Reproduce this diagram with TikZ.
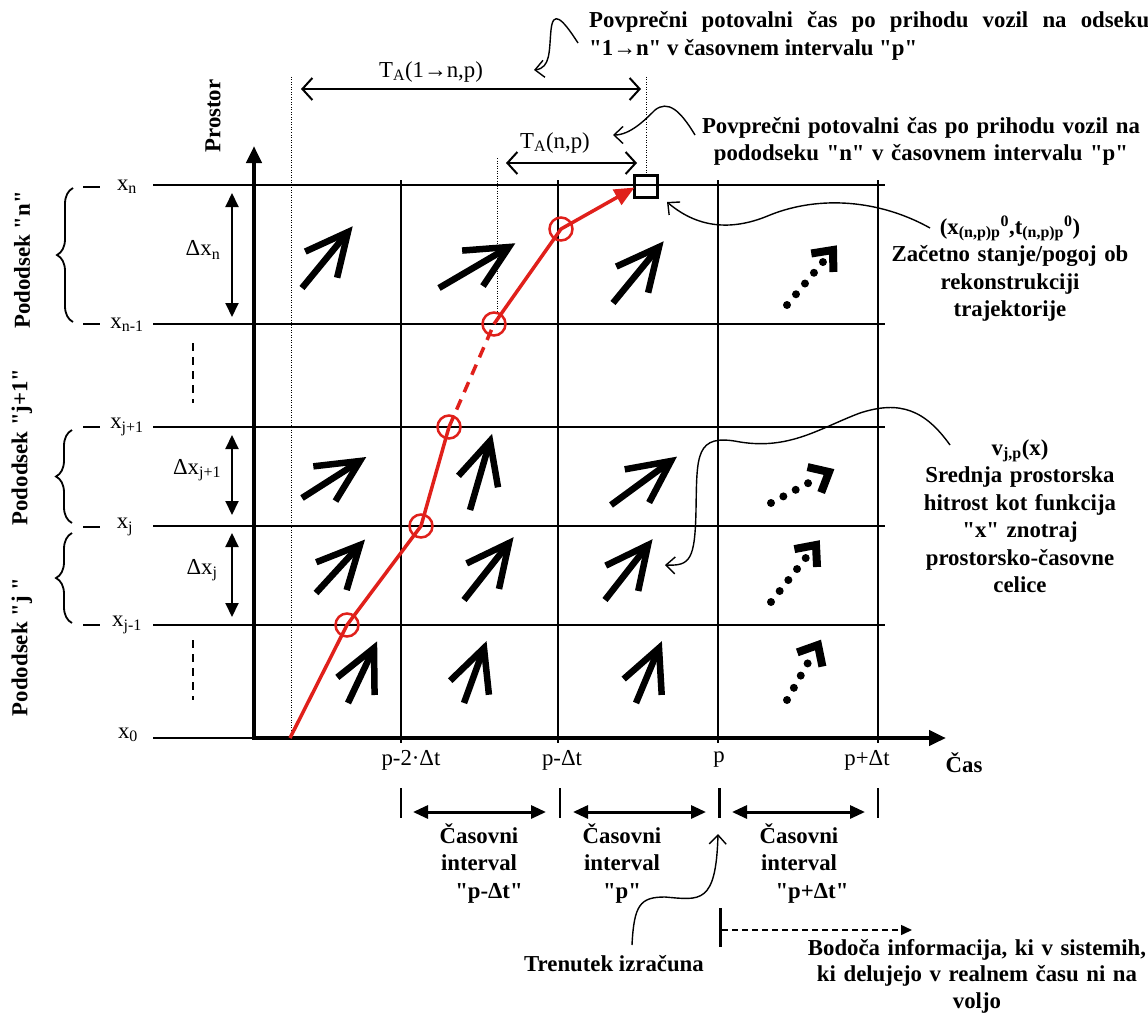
\documentclass[tikz,border=0pt]{standalone}
\usepackage{fontspec}
\setmainfont{Liberation Serif}[Ligatures=TeXOff]
\usetikzlibrary{arrows.meta,calc,decorations.pathreplacing}
\definecolor{trred}{HTML}{E0201B}
\newcommand{\bigsz}{\fontsize{22.8}{27.5}\selectfont}
\newcommand{\velarrow}[2]{%
  \draw[velshaft] (#1) -- (#2);
  \draw[velhead] ($(#2)!47pt!26:(#1)$) -- (#2) -- ($(#2)!47pt!-26:(#1)$);}
\newcommand{\dotarrow}[2]{%
  \draw[dotshaft] (#1) -- ($(#2)!13pt!(#1)$);
  \draw[dothead] ($(#2)!22pt!41:(#1)$) -- (#2) -- ($(#2)!22pt!-41:(#1)$);}
\tikzset{
  gridline/.style={line width=1.8pt},
  axisline/.style={line width=4.5pt, {Triangle[length=17pt,width=15pt]}-{Triangle[length=17pt,width=15pt]}},
  velshaft/.style={line width=6.5pt},
  velhead/.style={line width=6.5pt, line join=miter},
  dotshaft/.style={line width=8pt, line cap=round, dash pattern=on 0pt off 14pt},
  dothead/.style={line width=8pt, line join=miter},
  traj/.style={trred, line width=3.5pt},
  trmark/.style={circle, draw=trred, line width=2.5pt, minimum size=23pt, inner sep=0pt},
  guideline/.style={line width=0.8pt, dash pattern=on 1pt off 1.5pt},
  dimarr/.style={line width=2pt, {Straight Barb[length=10pt,width=22pt]}-{Straight Barb[length=10pt,width=22pt]}},
  dxarr/.style={line width=2pt, {Triangle[length=14pt,width=13pt]}-{Triangle[length=14pt,width=13pt]}},
  ivarr/.style={line width=3pt, {Triangle[length=15pt,width=13pt]}-{Triangle[length=15pt,width=13pt]}},
  callout/.style={line width=1.4pt, -{Straight Barb[length=9pt,width=17pt]}},
  bracestyle/.style={line width=1.8pt, decorate, decoration={brace, amplitude=16pt}},
  leftdash/.style={line width=2pt, dash pattern=on 8pt off 6pt},
  btext/.style={font=\bigsz\bfseries, inner sep=0pt},
  rtext/.style={font=\bigsz, inner sep=0pt},
}
\begin{document}
\begin{tikzpicture}[x=1pt,y=-1pt]
\useasboundingbox (0,0) rectangle (1148,1014);
\fill[white] (0,0) rectangle (1148,1014);

% grid
\foreach \yy in {185,324,427,526,625} \draw[gridline] (153,\yy) -- (885,\yy);
\draw[gridline] (153,738) -- (254,738);
\foreach \xx in {401,558,718,878} \draw[gridline] (\xx,180) -- (\xx,743);

% guide lines
\draw[guideline] (291,77) -- (291,738);
\draw[guideline] (497,158) -- (497,324);
\draw[guideline] (646,77) -- (646,175);

% axes
\coordinate (O) at (254,738);
\coordinate (ytop) at (254,146);
\coordinate (xend) at (946,738);
\draw[axisline] (ytop) -- (O) -- (xend);
\node[btext, rotate=90] (prostor) at (213,116) {Prostor};
\node[btext] (cas) at (964,763) {Čas};

% velocity arrows
\velarrow{302,288}{348,232}
\velarrow{439,288}{509,247}
\velarrow{613,303}{659,247}
\dotarrow{787,305}{833,250}
\velarrow{302,498}{360,461}
\velarrow{470,510}{490,441}
\velarrow{611,505}{671,461}
\dotarrow{771,503}{829,472}
\velarrow{316,593}{360,545}
\velarrow{464,600}{509,543}
\velarrow{605,600}{648,545}
\dotarrow{771,602}{816,545}
\velarrow{348,703}{374,648}
\velarrow{464,703}{484,648}
\velarrow{636,703}{659,648}
\dotarrow{787,700}{818,645}

% trajectory
\coordinate (s0) at (290,738);
\node[trmark] (c1) at (347,625) {};
\node[trmark] (c2) at (421,526) {};
\node[trmark] (c3) at (449,427) {};
\node[trmark] (c4) at (494,324) {};
\node[trmark] (c5) at (561,229) {};
\node[draw, line width=3pt, minimum width=23pt, minimum height=22pt, inner sep=0pt] (sq) at (645.5,186.5) {};
\draw[traj] (s0) -- (c1.center) -- (c2.center) -- (c3.center);
\draw[traj, dash pattern=on 11pt off 8pt] (c3.center) -- (c4.center);
\draw[traj, -{Triangle[length=20pt,width=17pt]}] (c4.center) -- (c5.center) -- ($(sq.west)+(2,1)$);

% left labels
\node[rtext] (xn) at (127,187) {x\textsubscript{n}};
\node[rtext] (xn1) at (127,325) {x\textsubscript{n-1}};
\node[rtext] (xj1) at (127,427) {x\textsubscript{j+1}};
\node[rtext] (xj) at (125,527) {x\textsubscript{j}};
\node[rtext] (xjm) at (127,625) {x\textsubscript{j-1}};
\node[rtext] (x0) at (128,735) {x\textsubscript{0}};
\node[rtext] (dxn) at (203,250) {Δx\textsubscript{n}};
\node[rtext] (dxj1) at (197,470) {Δx\textsubscript{j+1}};
\node[rtext] (dxj) at (202,570) {Δx\textsubscript{j}};
\foreach \yy in {187,324,427,527,625} \draw[gridline] (83,\yy) -- (100,\yy);
\draw[dxarr] (232,193) -- (232,317);
\draw[dxarr] (232,435) -- (232,515);
\draw[dxarr] (232,533) -- (232,617);
\draw[leftdash] (193,343) -- (193,403);
\draw[leftdash] (193,640) -- (193,700);
\draw[bracestyle] (73,322) -- (73,188);
\draw[bracestyle] (72,523) -- (72,430);
\draw[bracestyle] (72,623) -- (72,533);
\node[btext, rotate=90] (pn) at (22,260) {Pododsek "n"};
\node[btext, rotate=90] (pj1) at (22,447) {Pododsek "j+1"};
\node[btext, rotate=90] (pj) at (22,647) {Pododsek "j "};

% top dimension arrows
\node[rtext] (ta1) at (431,72) {T\textsubscript{A}(1→n,p)};
\draw[dimarr] (301,89) -- (641,89);
\node[rtext] (ta2) at (555,143) {T\textsubscript{A}(n,p)};
\draw[dimarr] (506,163) -- (637,163);

% top annotations
\node[btext, anchor=base west, text width=560pt, align=justify] (t1) at (589,28)
  {\tolerance=10000 Povprečni potovalni čas po prihodu vozil na odseku "1→n" v časovnem intervalu "p"};
\node[btext, anchor=base, text width=460pt, align=center] (t2) at (921,133)
  {Povprečni potovalni čas po prihodu vozil na\\pododseku "n" v časovnem intervalu "p"};
\draw[callout] (578,43) .. controls (562,18) and (553,10) .. (551,30) .. controls (549,50) and (551,68) .. (534,70);
\draw[callout] (695,135) .. controls (680,110) and (668,100) .. (655,110) .. controls (645,120) and (630,135) .. (613,135);

% right annotations
\node[btext, anchor=base, text width=270pt, align=center] (r1) at (1010,234)
  {(x\textsubscript{(n,p)p}\textsuperscript{0},t\textsubscript{(n,p)p}\textsuperscript{0})\\Začetno stanje/pogoj ob\\rekonstrukciji\\trajektorije};
\node[btext, anchor=base, text width=250pt, align=center] (r2) at (1020,455)
  {v\textsubscript{j,p}(x)\\Srednja prostorska\\hitrost kot funkcija\\"x" znotraj\\prostorsko-časovne\\celice};
\coordinate (r1c) at (930,228);
\coordinate (r2c) at (950,445);
\draw[callout] (r1c) .. controls (880,200) and (820,195) .. (770,215) .. controls (735,230) and (700,230) .. (667,202);
\draw[callout] (r2c) .. controls (925,410) and (900,400) .. (860,413) .. controls (820,428) and (790,450) .. (740,442) .. controls (695,433) and (697,455) .. (696,510) .. controls (695,560) and (690,566) .. (665,565);

% time labels
\node[rtext] (p2) at (411,760) {p-2·Δt};
\node[rtext] (p1) at (562,760) {p-Δt};
\node[rtext] (p0) at (719,760) {p};
\node[rtext] (pp) at (867,760) {p+Δt};

% interval ticks and arrows
\draw[line width=1.5pt] (401,788) -- (401,818);
\draw[line width=1.5pt] (560,788) -- (560,818);
\draw[line width=3pt] (719,788) -- (719,818);
\draw[line width=1.5pt] (878,788) -- (878,818);
\draw[ivarr] (413,812) -- (546,812);
\draw[ivarr] (573,812) -- (706,812);
\draw[ivarr] (732,812) -- (865,812);
\node[btext, anchor=base, text width=160pt, align=center] (i1) at (479,843) {Časovni\\interval\\\hspace*{20pt}"p-Δt"};
\node[btext, anchor=base, text width=140pt, align=center] (i2) at (622,843) {Časovni\\interval\\"p"\hspace*{10pt}};
\node[btext, anchor=base, text width=160pt, align=center] (i3) at (799,843) {Časovni\\interval\\\hspace*{26pt}"p+Δt"};

% calculation instant
\node[btext, anchor=base] (tren) at (614,971) {Trenutek izračuna};
\draw[callout] (632,945) .. controls (634,905) and (640,897) .. (665,897) .. controls (700,900) and (716,905) .. (718,834);
\draw[line width=3pt] (720,908) -- (720,947);
\draw[line width=1.5pt, dash pattern=on 6pt off 4pt, -{Triangle[length=11pt,width=10pt]}] (722,930) -- (912,930);
\node[btext, anchor=base, text width=360pt, align=center, font=\fontsize{22.8}{26.5}\selectfont\bfseries] (fut) at (977,955)
  {Bodoča informacija, ki v sistemih,\\ki delujejo v realnem času ni na\\voljo};
\end{tikzpicture}
\end{document}
